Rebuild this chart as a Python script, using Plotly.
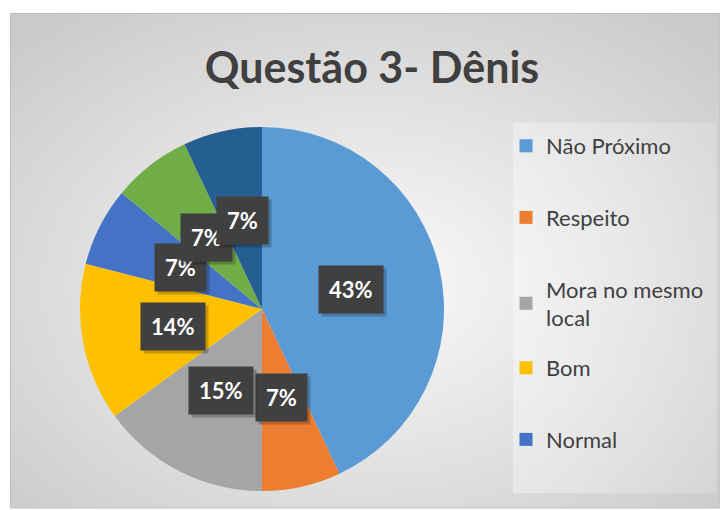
import base64
import math
import plotly.graph_objects as go

# ---- data ----
labels = ["Não Próximo", "Respeito", "Mora no mesmo local", "Bom", "Normal", "Outro A", "Outro B"]
values = [43, 7, 15, 14, 7, 7, 7]
colors = ["#5B9BD5", "#ED7D31", "#A5A5A5", "#FFC000", "#4472C4", "#70AD47", "#255E91"]
legend_labels = ["Não Próximo", "Respeito", "Mora no mesmo<br>local", "Bom", "Normal"]
legend_colors = colors[:5]
title_text = "Questão 3- Dênis"

W, H = 720, 510
FONT = "Lato"

# pie domain (paper fractions)
dom_x = [80 / W, 444 / W]
dom_y = [19 / H, 383 / H]

fig = go.Figure()
fig.add_trace(go.Pie(
    labels=labels, values=values, sort=False, direction="clockwise", rotation=0,
    marker=dict(colors=colors, line=dict(width=0)),
    textinfo="none", hoverinfo="label+percent", showlegend=False,
    domain=dict(x=dom_x, y=dom_y),
))

# legend entries (only the visible ones of the original); the entries after the
# two-line one go in a second legend so the spacing stays even
for i, (lab, col) in enumerate(zip(legend_labels, legend_colors)):
    fig.add_trace(go.Scatter(
        x=[None], y=[None], mode="markers", name=lab, legendgroup=f"g{i}",
        legend="legend" if i < 3 else "legend2",
        marker=dict(symbol="square", size=13, color=col),
    ))

# data label boxes at half radius of each slice
cx = (dom_x[0] + dom_x[1]) / 2 * W
cy = H - (dom_y[0] + dom_y[1]) / 2 * H
r = min((dom_x[1] - dom_x[0]) * W, (dom_y[1] - dom_y[0]) * H) / 2
total = sum(values)
annotations = []
cum = 0
for v in values:
    mid = (cum + v / 2) / total * 2 * math.pi
    cum += v
    px = cx + 0.5 * r * math.sin(mid)
    py = cy - 0.5 * r * math.cos(mid)
    for shadow in (True, False):
        off = 3 if shadow else 0
        annotations.append(dict(
            x=(px + off) / W, y=1 - (py + off) / H, xref="paper", yref="paper",
            text=f"<b>{v}%</b>", showarrow=False,
            font=dict(family=FONT, size=22, color="rgba(0,0,0,0)" if shadow else "white"),
            bgcolor="rgba(0,0,0,0.22)" if shadow else "#404040",
            borderpad=10, xanchor="center", yanchor="middle",
        ))

# background gradient
svg = ('<svg xmlns="http://www.w3.org/2000/svg" width="710" height="495">'
       '<defs><radialGradient id="g" cx="50%" cy="55%" r="70%">'
       '<stop offset="0" stop-color="#fbfbfb"/><stop offset="1" stop-color="#cacaca"/>'
       '</radialGradient>'
       '<linearGradient id="l" x1="0" y1="0" x2="1" y2="0">'
       '<stop offset="0" stop-color="#ffffff" stop-opacity="0.35"/>'
       '<stop offset="1" stop-color="#ffffff" stop-opacity="0.15"/></linearGradient></defs>'
       '<rect width="710" height="495" fill="url(#g)"/>'
       '<rect x="503" y="110" width="203" height="370" fill="url(#l)"/></svg>')
src = "data:image/svg+xml;base64," + base64.b64encode(svg.encode()).decode()

legend_common = dict(xanchor="left", yanchor="top",
                     font=dict(family=FONT, size=22, color="#404040"),
                     bgcolor="rgba(0,0,0,0)", traceorder="grouped", tracegroupgap=40,
                     itemclick=False, itemdoubleclick=False)

fig.update_layout(
    width=W, height=H, autosize=False,
    margin=dict(l=0, r=0, t=0, b=0),
    paper_bgcolor="white", plot_bgcolor="rgba(0,0,0,0)",
    xaxis=dict(visible=False), yaxis=dict(visible=False),
    title=dict(text=f"<b>{title_text}</b>", x=372 / W, xanchor="center",
               y=1 - 68 / H, yanchor="middle",
               font=dict(family=FONT, size=43, color="#404040")),
    legend=dict(x=506 / W, y=1 - 125 / H, **legend_common),
    legend2=dict(x=506 / W, y=1 - 347 / H, **legend_common),
    images=[dict(source=src, xref="paper", yref="paper", x=10 / W, y=1 - 13 / H,
                 sizex=710 / W, sizey=495 / H, sizing="stretch", layer="below",
                 xanchor="left", yanchor="top")],
    shapes=[dict(type="rect", xref="paper", yref="paper", x0=10.5 / W, x1=1,
                 y0=1 - 508 / H, y1=1 - 13.5 / H, line=dict(color="#bfbfbf", width=1),
                 fillcolor="rgba(0,0,0,0)", layer="below")],
    annotations=annotations,
)

fig.write_html("out.html", config={"displayModeBar": False},
               post_script="document.body.style.margin='0';")
